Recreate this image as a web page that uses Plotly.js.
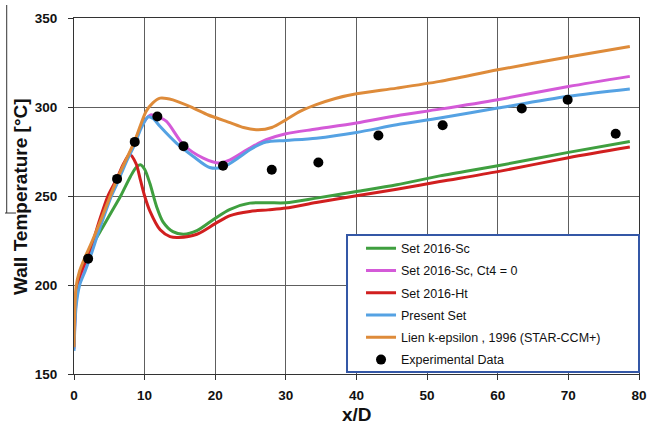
<!DOCTYPE html>
<html>
<head>
<meta charset="utf-8">
<script src="https://cdn.plot.ly/plotly-3.0.1.min.js"></script>
<style>
  html, body { margin: 0; padding: 0; background: #ffffff; }
  #chart { width: 648px; height: 425px; }
</style>
</head>
<body>
<div id="chart"></div>
<script>
// ---- Data ----
var seriesNames = [
  "Set 2016-Sc",
  "Set 2016-Sc, Ct4 = 0",
  "Set 2016-Ht",
  "Present Set",
  "Lien k-epsilon , 1996 (STAR-CCM+)",
  "Experimental Data"
];

var greenX = [0, 0.3, 0.8, 1.6, 2.7, 4, 5.3, 6.6, 8, 8.8, 9.4, 10, 10.75, 11.7, 12.6, 14, 15.5, 17.4, 20, 22.1, 24.9, 27.5, 30, 34.3, 40, 45.7, 51.8, 60, 70, 78.7];
var greenY = [165, 193, 202, 210, 223, 232, 241, 250, 261, 266, 267.5, 265, 257, 244, 235.5, 230, 228.5, 230.5, 237.5, 242.5, 246, 246.2, 246.2, 248.8, 252.5, 256.3, 261.3, 267, 274.5, 280.6];

var magentaX = [0, 0.3, 0.8, 1.6, 2.5, 3.5, 5.3, 6.1, 7.5, 8.6, 9.5, 10.85, 12, 13.1, 15.5, 18.3, 20.6, 22.1, 24.9, 27.2, 30, 34.3, 40, 45.7, 51.8, 60, 70, 78.7];
var magentaY = [164, 191, 202, 210, 220, 232, 251, 258, 271, 280, 289, 295.6, 294.3, 291.9, 278.8, 271.3, 268.5, 270.3, 276.9, 281.6, 285, 287.6, 291, 295.1, 298.8, 304.1, 311.5, 317.2];

var redX = [0, 0.3, 0.8, 1.6, 2.5, 3.5, 4.8, 6.1, 7, 7.9, 8.8, 9.4, 10, 10.75, 12.2, 13.6, 14.8, 17.4, 20, 22.1, 24.9, 27.5, 30, 34.3, 40, 45.7, 51.8, 60, 70, 78.7];
var redY = [166, 196, 205, 213, 222, 235, 250, 260, 268, 273.3, 268, 259, 250, 241.5, 231, 227.2, 226.7, 228.5, 234.5, 239, 241.3, 242.2, 243.2, 246.3, 250.1, 253.8, 258.1, 263.7, 271.5, 277.5];

var blueX = [0, 0.3, 0.8, 1.6, 2.5, 3.5, 5.3, 6.1, 7.5, 8.6, 9.5, 10.5, 11.2, 12.2, 14.5, 16.9, 19.2, 21.1, 23.5, 24.9, 26.3, 27.2, 30, 34.3, 40, 45.7, 51.8, 60, 70, 78.7];
var blueY = [163, 188, 200, 208, 218, 230, 250, 257, 270, 279, 288, 294.5, 293.5, 289, 279.7, 272.2, 266, 266.2, 272, 276, 279, 280.3, 281.2, 282.5, 285.7, 290, 293.8, 299.4, 306, 310.1];

var orangeX = [0, 0.3, 0.8, 1.6, 2.5, 4, 6.1, 8.6, 10.2, 11.2, 12.2, 14, 16.9, 19, 22.1, 24, 26.1, 28, 30, 32, 34.3, 37, 40, 45.7, 51.8, 60, 70, 78.7];
var orangeY = [165, 199, 208, 216, 224, 238.5, 259.5, 281, 297.5, 302.5, 305, 304, 299.4, 295.5, 291.2, 288.5, 287.2, 288.5, 292.8, 297.5, 301.3, 304.8, 307.4, 310.6, 314.4, 320.9, 328.1, 334];

var expX = [2.0, 6.1, 8.6, 11.8, 15.5, 21.1, 28.0, 34.6, 43.1, 52.2, 63.4, 69.9, 76.7];
var expY = [214.8, 259.6, 280.4, 294.7, 278, 267, 264.7, 268.8, 284.0, 289.7, 299.2, 304.1, 285.0];

var xTicks = [0, 10, 20, 30, 40, 50, 60, 70, 80];
var yTicks = [150, 200, 250, 300, 350];

// ---- Styling ----
var colors = ["#3f9f3f", "#d45ad8", "#d11f1f", "#55a2e3", "#de8b3a", "#000000"];

function lineTrace(x, y, i) {
  return {
    x: x, y: y, type: "scatter", mode: "lines",
    name: seriesNames[i], legendgroup: "g" + i,
    line: { color: colors[i], width: 3, shape: "spline", smoothing: 0.8 },
    hoverinfo: "skip"
  };
}

var traces = [
  lineTrace(greenX, greenY, 0),
  lineTrace(magentaX, magentaY, 1),
  lineTrace(redX, redY, 2),
  lineTrace(blueX, blueY, 3),
  lineTrace(orangeX, orangeY, 4),
  {
    x: expX, y: expY, type: "scatter", mode: "markers",
    name: seriesNames[5], legendgroup: "g5",
    marker: { color: "#000000", size: 10 },
    hoverinfo: "skip"
  }
];

var gridCol = "#5e5e5e";
var tickFont = { family: "Liberation Sans, Arial, sans-serif", size: 13.5, color: "#111111", weight: "bold" };

var layout = {
  width: 648, height: 425,
  margin: { l: 74, r: 9, t: 18, b: 51, pad: 0 },
  paper_bgcolor: "#ffffff",
  plot_bgcolor: "#ffffff",
  showlegend: true,
  xaxis: {
    range: [0, 80], tickvals: xTicks, ticktext: xTicks.map(String),
    showgrid: true, gridcolor: gridCol, gridwidth: 1,
    showline: true, linecolor: "#333333", linewidth: 1, mirror: true,
    ticks: "outside", ticklen: 5, tickcolor: "#333333",
    tickfont: tickFont, ticklabelstandoff: 4, zeroline: false
  },
  yaxis: {
    range: [150, 350], tickvals: yTicks, ticktext: yTicks.map(String),
    showgrid: true, gridcolor: gridCol, gridwidth: 1,
    showline: true, linecolor: "#333333", linewidth: 1, mirror: true,
    ticks: "outside", ticklen: 5, tickcolor: "#333333",
    tickfont: tickFont, ticklabelstandoff: 8, zeroline: false
  },
  legend: {
    x: 0.508, xanchor: "left", y: 0.394, yanchor: "top",
    bgcolor: "rgba(0,0,0,0)", borderwidth: 0,
    font: { family: "Liberation Sans, Arial, sans-serif", size: 12.5, color: "#111111" },
    tracegroupgap: 3
  },
  shapes: [
    { type: "rect", xref: "paper", yref: "paper", x0: 0.4832, x1: 1.0, y0: 0.0056, y1: 0.3904,
      line: { color: "#3457a6", width: 2 }, fillcolor: "#ffffff", layer: "above" },
    { type: "line", xref: "paper", yref: "paper", x0: -0.1191, x1: -0.1191, y0: 1.0365, y1: 0.4522,
      line: { color: "#333333", width: 1 } },
    { type: "line", xref: "paper", yref: "paper", x0: -0.1221, x1: -0.1027, y0: 0.4522, y1: 0.4522,
      line: { color: "#333333", width: 1 } }
  ],
  annotations: [
    { text: "Wall Temperature [°C]", xref: "paper", yref: "paper", x: -0.0956, y: 0.5,
      xanchor: "center", yanchor: "middle", textangle: -90, showarrow: false,
      font: { family: "Liberation Sans, Arial, sans-serif", size: 19, color: "#111111", weight: "bold" } },
    { text: "x/D", xref: "paper", yref: "paper", x: 0.5, y: -0.115,
      xanchor: "center", yanchor: "middle", showarrow: false,
      font: { family: "Liberation Sans, Arial, sans-serif", size: 19, color: "#111111", weight: "bold" } }
  ]
};

Plotly.newPlot("chart", traces, layout, { staticPlot: true, displayModeBar: false });
</script>
</body>
</html>
